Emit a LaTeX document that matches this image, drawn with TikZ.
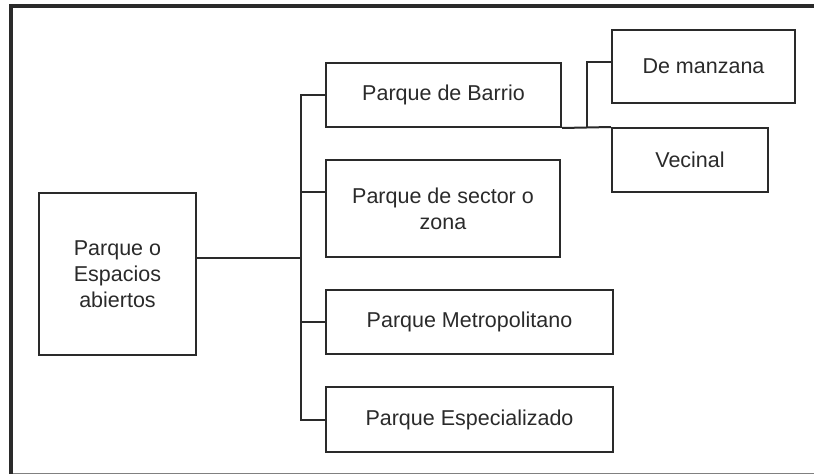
\documentclass[tikz,border=0pt]{standalone}
\usepackage{fontspec}
\setmainfont{Liberation Sans}
\usepackage{tikz}
\usetikzlibrary{positioning}

\definecolor{tinta}{HTML}{2A2A2A}
\tikzset{
  caja/.style={draw=tinta, line width=2pt, inner sep=0pt, align=center,
    text=tinta, font=\fontsize{21.5}{26}\selectfont},
  rama/.style={draw=tinta, line width=2pt}
}

\begin{document}
\begin{tikzpicture}[x=1pt, y=-1pt]
\useasboundingbox (0,0) rectangle (814,474);

% Marco
\draw[tinta, line width=4pt] (11,474) -- (11,6) -- (814,6);
\draw[gray, line width=1pt] (13,473) -- (814,473);

% Cajas
\node[caja, minimum width=157pt, minimum height=162pt] (raiz) at (117.5,274) {Parque o\\Espacios\\abiertos};
\node[caja, minimum width=235pt, minimum height=64pt] (barrio) at (443.5,95) {Parque de Barrio};
\node[caja, minimum width=234pt, minimum height=97pt] (sector) at (443,208.5) {Parque de sector o\\zona};
\node[caja, minimum width=287pt, minimum height=64pt] (metro) at (469.5,322) {Parque Metropolitano};
\node[caja, minimum width=287pt, minimum height=65pt] (especial) at (469.5,419.5) {Parque Especializado};
\node[caja, minimum width=183pt, minimum height=73pt] (manzana) at (703.5,66.5) {De manzana};
\node[caja, minimum width=156pt, minimum height=64pt] (vecinal) at (690,160) {Vecinal};

% Ramas
\coordinate (tronco) at (301,258);
\coordinate (ramasector) at (301,192);
\coordinate (ramabarrio) at (587,127);
\draw[rama] (raiz.east |- tronco) -- (tronco);
\draw[rama] (barrio.west) -| (tronco) |- (especial.west);
\draw[rama] (ramasector) -- (sector.west |- ramasector);
\draw[rama] (metro.west -| tronco) -- (metro.west);
\draw[rama] (barrio.south east) -- (vecinal.north west);
\draw[rama] (ramabarrio) |- (manzana.west |- barrio.north);
\end{tikzpicture}
\end{document}
